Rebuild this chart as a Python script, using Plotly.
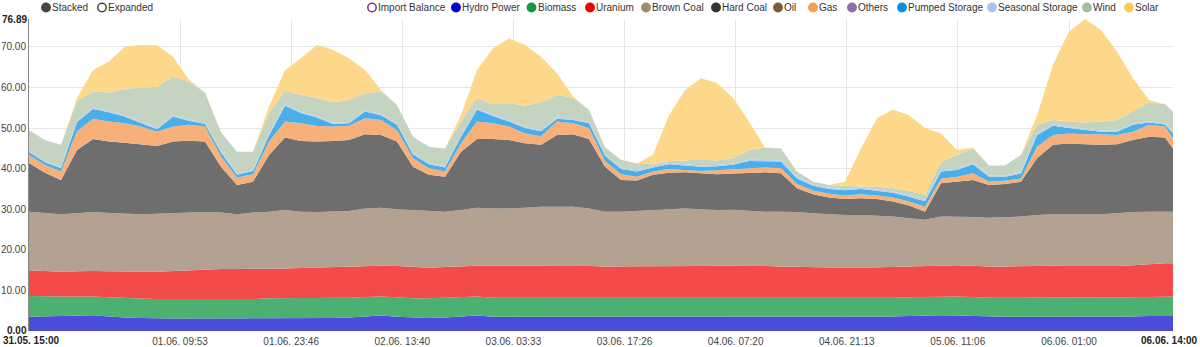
import pandas as pd
import plotly.graph_objects as go

# ---- time axis: 2-hourly samples from 31.05. 15:00 to 06.06. 14:00 ----
start = pd.Timestamp("2023-05-31 15:00")
end = pd.Timestamp("2023-06-06 14:00")
times = list(pd.date_range(start, periods=72, freq="2h")) + [end]

# ---- generation per source (GW), bottom of the stack first ----
hydro = [3.5, 3.6, 3.7, 3.8, 3.9, 3.6, 3.3, 3.2, 3.1, 3.1, 3.1, 3.1, 3.1, 3.1, 3.1,
         3.1, 3.1, 3.1, 3.1, 3.2, 3.3, 3.6, 3.8, 3.5, 3.3, 3.2, 3.3, 3.6, 3.8,
         3.5, 3.5, 3.5, 3.5, 3.5, 3.5, 3.5, 3.5, 3.5, 3.5, 3.5, 3.5, 3.5, 3.5, 3.5,
         3.5, 3.5, 3.5, 3.5, 3.5, 3.5, 3.5, 3.5, 3.5, 3.6, 3.6, 3.7, 3.8, 3.9,
         3.8, 3.7, 3.5, 3.5, 3.5, 3.5, 3.5, 3.5, 3.5, 3.5, 3.5, 3.6, 3.7, 3.7,
         3.7]
biomass = [5.1, 4.9, 4.8, 4.7, 4.6, 4.7, 4.8, 4.8, 4.8, 4.8, 4.7, 4.8, 4.8, 4.8, 4.8,
           5.0, 5.0, 5.0, 5.0, 4.9, 4.9, 4.8, 4.7, 4.8, 4.8, 4.9, 4.9, 4.8, 4.7,
           4.7, 4.7, 4.7, 4.7, 4.7, 4.7, 4.7, 4.7, 4.7, 4.7, 4.7, 4.7, 4.7, 4.7, 4.7,
           4.7, 4.7, 4.7, 4.7, 4.7, 4.7, 4.7, 4.6, 4.6, 4.6, 4.6, 4.6, 4.6, 4.6,
           4.7, 4.7, 4.7, 4.7, 4.7, 4.7, 4.7, 4.7, 4.7, 4.7, 4.7, 4.7, 4.7, 4.8,
           4.8]
uranium = [6.4, 6.3, 6.1, 6.2, 6.3, 6.4, 6.5, 6.6, 6.7, 6.9, 7.2, 7.2, 7.4, 7.4, 7.4,
           7.2, 7.3, 7.4, 7.5, 7.6, 7.7, 7.6, 7.6, 7.7, 7.7, 7.5, 7.6, 7.6, 7.6,
           7.9, 7.9, 7.8, 7.8, 7.9, 7.9, 7.8, 7.7, 7.7, 7.7, 7.7, 7.7, 7.8, 7.8, 7.9,
           7.9, 7.8, 7.8, 7.7, 7.6, 7.5, 7.4, 7.5, 7.5, 7.5, 7.6, 7.6, 7.7, 7.7,
           7.7, 7.7, 7.7, 7.7, 7.8, 7.9, 7.9, 7.8, 7.8, 7.7, 7.8, 7.9, 8.1, 8.2,
           8.2]
brown_coal = [14.4, 14.3, 14.2, 14.3, 14.5, 14.4, 14.4, 14.2, 14.3, 14.2, 14.1, 14.2, 13.9, 13.5, 13.9,
              14.1, 14.4, 13.9, 13.7, 13.7, 13.7, 14.2, 14.3, 14.0, 14.0, 14.0, 13.6, 13.8, 14.3,
              14.1, 14.1, 14.4, 14.6, 14.5, 14.5, 14.2, 13.5, 13.5, 13.7, 13.9, 14.1, 14.2, 14.0, 13.7,
              13.8, 13.6, 13.4, 13.5, 13.5, 13.3, 13.2, 13.0, 13.0, 12.7, 12.4, 11.9, 11.3, 12.0,
              12.0, 12.0, 12.0, 12.1, 12.2, 12.5, 12.7, 12.8, 12.8, 12.9, 13.0, 13.1, 12.9, 12.7,
              12.7]
hard_coal = [12.0, 9.9, 8.4, 15.6, 18.0, 17.6, 17.4, 17.2, 16.7, 17.7, 17.8, 17.4, 11.3, 7.2, 7.6,
             14.0, 17.9, 17.4, 17.4, 17.4, 17.5, 18.3, 17.9, 16.7, 10.7, 8.9, 8.6, 14.4, 16.9,
             17.1, 16.9, 15.9, 15.3, 17.7, 17.9, 17.1, 11.1, 7.8, 7.5, 8.7, 9.0, 8.9, 8.8, 8.8,
             8.9, 9.3, 9.7, 9.5, 5.9, 4.7, 4.1, 3.9, 4.1, 4.1, 3.7, 3.1, 2.0, 8.2,
             8.6, 9.1, 8.1, 8.2, 8.6, 14.0, 17.1, 17.4, 17.2, 17.1, 17.0, 17.8, 18.5, 18.3,
             15.6]
gas = [2.0, 1.9, 2.1, 4.6, 5.0, 4.9, 4.8, 4.4, 3.5, 3.7, 3.9, 3.7, 2.5, 1.8, 1.8,
       3.3, 3.9, 4.4, 3.8, 3.6, 3.5, 3.9, 3.7, 2.8, 2.1, 1.6, 1.3, 2.1, 4.3,
       3.9, 3.3, 2.4, 2.1, 3.3, 2.7, 2.7, 1.4, 1.4, 0.9, 0.8, 0.9, 0.6, 0.6, 1.0,
       1.0, 1.2, 1.2, 1.2, 1.0, 0.9, 0.9, 0.9, 1.0, 0.9, 1.0, 1.0, 1.2, 1.1,
       1.2, 1.7, 0.8, 0.8, 0.8, 2.8, 2.4, 2.5, 2.5, 2.6, 2.3, 2.0, 2.9, 2.7,
       2.5]
pumped_storage = [0.7, 0.7, 0.8, 2.3, 2.4, 2.3, 1.6, 0.8, 0.6, 2.4, 1.0, 0.6, 1.0, 0.7, 0.8,
                  1.5, 3.9, 2.5, 2.1, 0.6, 0.6, 1.7, 1.2, 1.3, 0.9, 1.0, 1.0, 1.6, 2.9,
                  1.8, 1.2, 1.3, 1.2, 0.7, 0.8, 1.2, 1.3, 1.3, 1.3, 1.0, 1.2, 1.1, 1.1, 1.0,
                  1.2, 1.8, 1.6, 1.7, 1.4, 1.2, 1.2, 1.3, 1.3, 1.2, 1.2, 1.2, 1.4, 1.8,
                  1.7, 2.2, 1.2, 1.0, 1.2, 2.9, 2.3, 1.3, 1.0, 0.6, 0.8, 1.7, 0.6, 0.5,
                  1.2]
seasonal_storage = [0.3, 0.3, 0.3, 0.3, 0.3, 0.3, 0.3, 0.3, 0.3, 0.3, 0.3, 0.3, 0.3, 0.3, 0.3,
                    0.3, 0.3, 0.3, 0.3, 0.3, 0.3, 0.3, 0.3, 0.3, 0.3, 0.3, 0.3, 0.3, 0.3,
                    0.3, 0.3, 0.3, 0.3, 0.3, 0.3, 0.3, 0.3, 0.3, 0.3, 0.3, 0.3, 0.3, 0.3, 0.3,
                    0.3, 0.3, 0.3, 0.3, 0.3, 0.3, 0.3, 0.3, 0.3, 0.3, 0.3, 0.3, 0.3, 0.3,
                    0.3, 0.3, 0.3, 0.3, 0.3, 0.3, 0.3, 0.3, 0.3, 0.3, 0.3, 0.3, 0.3, 0.3,
                    0.3]
wind = [5.1, 5.2, 5.5, 4.9, 4.0, 4.6, 6.6, 8.5, 10.2, 9.6, 9.4, 7.5, 4.7, 5.4, 4.5,
        5.2, 3.4, 4.2, 4.5, 5.1, 5.4, 4.2, 5.5, 4.6, 4.1, 4.0, 4.4, 3.4, 2.6,
        2.6, 4.2, 5.2, 6.9, 5.6, 5.1, 3.0, 1.7, 2.0, 1.7, 0.5, 0.5, 0.9, 1.5, 1.1,
        1.3, 2.4, 3.0, 2.9, 1.4, 0.7, 0.7, 0.8, 0.3, 0.7, 0.8, 1.1, 1.2, 2.1,
        3.4, 3.6, 2.5, 2.5, 4.3, 2.2, 1.1, 1.3, 1.6, 2.2, 2.6, 3.0, 4.7, 4.7,
        5.1]
solar = [0.0, 0.0, 0.0, 0.7, 5.3, 7.6, 10.4, 10.5, 10.3, 4.9, 0.4, 0.0, 0.0, 0.0, 0.0,
         1.6, 5.1, 9.0, 13.1, 12.9, 10.3, 5.7, 0.4, 0.0, 0.0, 0.0, 0.0, 1.6, 6.9,
         13.8, 16.0, 15.0, 11.2, 5.3, 0.4, 0.0, 0.0, 0.0, 0.0, 2.3, 11.3, 17.4, 20.0, 19.1,
         14.8, 7.0, 0.0, 0.0, 0.0, 0.0, 0.0, 1.0, 9.4, 16.8, 19.4, 18.7, 16.5, 7.0,
         1.2, 0.2, 0.0, 0.0, 0.0, 2.4, 13.6, 22.2, 25.49, 22.6, 16.9, 8.2, 0.5, 0.0,
         0.0]

# ---- axis labels ----
y_max = 76.89
y_ticks = [10, 20, 30, 40, 50, 60, 70]
x_tick_times = ["2023-06-01 09:53", "2023-06-01 23:46", "2023-06-02 13:40",
                "2023-06-03 03:33", "2023-06-03 17:26", "2023-06-04 07:20",
                "2023-06-04 21:13", "2023-06-05 11:06", "2023-06-06 01:00"]
x_tick_text = ["01.06. 09:53", "01.06. 23:46", "02.06. 13:40", "03.06. 03:33",
               "03.06. 17:26", "04.06. 07:20", "04.06. 21:13", "05.06. 11:06",
               "06.06. 01:00"]

FONT = "Liberation Sans, Arial, sans-serif"
FS = 10

# (name, values, area colour)
layers = [
    ("Hydro Power", hydro, "#4c4cd8"),
    ("Biomass", biomass, "#4cb071"),
    ("Uranium", uranium, "#f34a4a"),
    ("Brown Coal", brown_coal, "#b3a291"),
    ("Hard Coal", hard_coal, "#6e6e6e"),
    ("Gas", gas, "#f8b07b"),
    ("Pumped Storage", pumped_storage, "#4aaee8"),
    ("Seasonal Storage", seasonal_storage, "#b5cdf5"),
    ("Wind", wind, "#c4d4c0"),
    ("Solar", solar, "#fdd88a"),
]

fig = go.Figure()
for name, vals, col in layers:
    fig.add_trace(go.Scatter(
        x=times, y=vals, name=name, mode="lines", stackgroup="mix",
        line=dict(width=0, color=col), fillcolor=col, showlegend=False,
    ))

# ---- plot geometry (pixels) ----
W, H = 1200, 347
L, R, T, B = 29, 27, 19, 16
pw, ph = W - L - R, H - T - B


def px_x(x):
    return (x - L) / pw


def px_y(y):
    return (H - B - y) / ph


annotations = []
shapes = []

bold_font = dict(family=FONT, size=FS, color="#222")
# bold end labels of both axes
annotations.append(dict(text="<b>76.89</b>", xref="paper", yref="y", x=0, y=y_max,
                        xanchor="right", yanchor="middle", xshift=-2, showarrow=False,
                        borderpad=0, borderwidth=0, font=bold_font))
annotations.append(dict(text="<b>0.00</b>", xref="paper", yref="y", x=0, y=0,
                        xanchor="right", yanchor="middle", xshift=-2, yshift=1, showarrow=False,
                        borderpad=0, borderwidth=0, font=bold_font))
annotations.append(dict(text="<b>31.05. 15:00</b>", xref="paper", yref="paper", x=px_x(3), y=0,
                        xanchor="left", yanchor="top", yshift=-4, showarrow=False,
                        borderpad=0, borderwidth=0, font=bold_font))
annotations.append(dict(text="<b>06.06. 14:00</b>", xref="paper", yref="paper", x=px_x(1198), y=0,
                        xanchor="right", yanchor="top", yshift=-4, showarrow=False,
                        borderpad=0, borderwidth=0, font=bold_font))

# legend row: (label, circle centre x, filled?, colour)
legend_items = [
    ("Stacked", 46, True, "#444444"),
    ("Expanded", 102, False, "#444444"),
    ("Import Balance", 372, False, "#7b2f8f"),
    ("Hydro Power", 456, True, "#0000cc"),
    ("Biomass", 531.5, True, "#119944"),
    ("Uranium", 590, True, "#ee0000"),
    ("Brown Coal", 646, True, "#9e8a70"),
    ("Hard Coal", 716, True, "#333333"),
    ("Oil", 778, True, "#7b5b3a"),
    ("Gas", 813, True, "#f79c52"),
    ("Others", 852, True, "#8c6fb3"),
    ("Pumped Storage", 902, True, "#0a8ee0"),
    ("Seasonal Storage", 992, True, "#a9c3f2"),
    ("Wind", 1087, True, "#a5bf9d"),
    ("Solar", 1129, True, "#ffcb57"),
]
leg_y = px_y(7.5)
for label, cx, filled, col in legend_items:
    shapes.append(dict(type="circle", xref="paper", yref="paper",
                       xsizemode="pixel", ysizemode="pixel",
                       xanchor=px_x(cx), yanchor=leg_y,
                       x0=-4.2, x1=4.2, y0=-4.2, y1=4.2,
                       fillcolor=col if filled else "white",
                       line=dict(color=col, width=1.5)))
    annotations.append(dict(text=label, xref="paper", yref="paper",
                            x=px_x(cx + 6), y=leg_y, xanchor="left", yanchor="middle",
                            showarrow=False, borderpad=0, borderwidth=0,
                            font=dict(family=FONT, size=FS, color="#333")))

fig.update_layout(
    width=W, height=H,
    margin=dict(l=L, r=R, t=T, b=B, pad=0),
    paper_bgcolor="white", plot_bgcolor="white",
    font=dict(family=FONT, size=FS, color="#333"),
    showlegend=False,
    annotations=annotations,
    shapes=shapes,
    xaxis=dict(type="date", range=[start, end], tickvals=x_tick_times, ticktext=x_tick_text,
               showgrid=True, gridcolor="#e6e6e6", gridwidth=1, ticks="", showline=False,
               zeroline=False, automargin=False, ticklabelstandoff=3,
               tickfont=dict(size=FS, color="#444")),
    yaxis=dict(range=[0, y_max], tickvals=y_ticks, ticktext=[f"{v:.2f}" for v in y_ticks],
               showgrid=True, gridcolor="#e6e6e6", gridwidth=1, ticks="", showline=True,
               linecolor="#888", linewidth=1, zeroline=False, automargin=False,
               tickfont=dict(size=FS, color="#444")),
)

fig.write_html("out.html")
